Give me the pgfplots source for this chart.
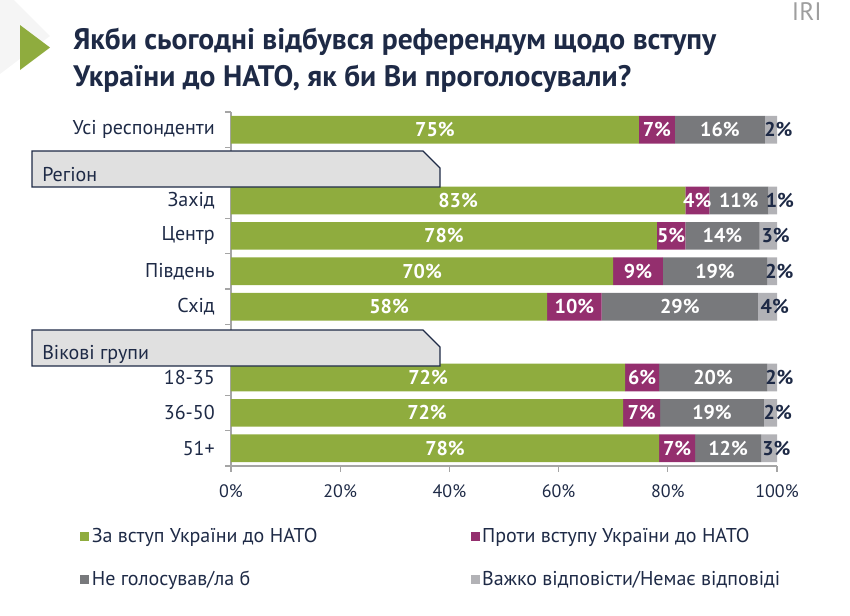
\documentclass[border=0pt]{standalone}
\usepackage{pgfplots}
\pgfplotsset{compat=1.18}
\usepackage{pgfplotstable}
\usepackage{fontspec}
\setmainfont{PT Sans}
\definecolor{cgreen}{RGB}{143,172,62}
\definecolor{cpurple}{RGB}{148,47,110}
\definecolor{cdgray}{RGB}{120,121,124}
\definecolor{clgray}{RGB}{178,178,182}
\definecolor{navy}{RGB}{30,42,70}
\definecolor{axgray}{RGB}{165,165,165}
\definecolor{hdrfill}{RGB}{224,224,224}
\newcommand\lblfont{\bfseries\fontsize{15pt}{17pt}\selectfont}
\newcommand\txtfont{\fontsize{15pt}{18pt}\selectfont}
\newcommand\tickfont{\fontsize{13.5pt}{16pt}\selectfont}

% y: 9 = top row (Усі респонденти) ... 0 = bottom row (51+)
\pgfplotstableread{
y a b c d la lb lc ld
9 74.7 6.6 16.5 2.2 75 7 16 2
7 83.2 4.4 10.8 1.6 83 4 11 1
6 78.0 5.2 13.6 3.2 78 5 14 3
5 70.0 9.1 19.1 1.8 70 9 19 2
4 57.9 10.0 28.6 3.5 58 10 29 4
2 72.2 6.2 19.8 1.8 72 6 20 2
1 71.8 6.8 19.0 2.4 72 7 19 2
0 78.4 6.6 12.1 2.9 78 7 12 3
}\datatable

\pgfplotsset{
  common/.style={
    at={(173.25pt,-349.5pt)}, anchor=south west,
    width=409.5pt, height=265.5pt, scale only axis,
    xmin=0, xmax=100, ymin=-0.5, ymax=9.5,
  },
}

\begin{document}
\begin{tikzpicture}
\begin{scope}[x=0.75pt, y=-0.75pt]
  \fill[black!4] (0,0) -- (14,0) -- (50,36) -- (0,74) -- cycle;
\end{scope}
\begin{axis}[common,
  xbar stacked, bar width=20.75pt,
  axis x line*=bottom, axis y line*=left,
  axis line style={draw=axgray, line width=0.9pt},
  tick align=outside, major tick length=4.3pt,
  tick style={draw=axgray, line width=0.9pt},
  xtick={0,20,...,100},
  /pgf/number format/assume math mode=true,
  xticklabel={\pgfmathprintnumber{\tick}\%},
  xticklabel style={font=\tickfont, text=navy, yshift=-6pt},
  ytick={-0.5,0.5,...,9.5},
  yticklabels={},
  extra y ticks={9,7,6,5,4,2,1,0},
  extra y tick labels={Усі респонденти,Захід,Центр,Південь,Схід,18-35,36-50,51+},
  extra y tick style={major tick length=0pt},
  yticklabel style={font=\txtfont, text=navy, inner sep=0pt, xshift=-12pt},
  legend columns=2,
  legend cell align=left,
  legend style={at={(-0.2766,-0.168)}, anchor=north west, draw=none, fill=none,
    inner sep=0pt, font=\txtfont, text=navy, row sep=16pt,
    nodes={inner sep=2pt}},
  legend image code/.code={\fill[#1] (0pt,-3.4pt) rectangle (6.75pt,3.4pt);},
]
\addplot[fill=cgreen, draw=none] table[x=a, y=y] {\datatable};
\addlegendentry{\makebox[282pt][l]{За вступ України до НАТО}}
\addplot[fill=cpurple, draw=none] table[x=b, y=y] {\datatable};
\addlegendentry{Проти вступу України до НАТО}
\addplot[fill=cdgray, draw=none] table[x=c, y=y] {\datatable};
\addlegendentry{\makebox[282pt][l]{Не голосував/ла б}}
\addplot[fill=clgray, draw=none] table[x=d, y=y] {\datatable};
\addlegendentry{Важко відповісти/Немає відповіді}
\end{axis}

\begin{axis}[common, hide axis, clip=false]
\addplot[only marks, mark size=0pt, point meta=explicit symbolic,
  nodes near coords={\pgfplotspointmeta\%},
  nodes near coords style={anchor=center, text=white, font=\lblfont}]
  table[x expr=\thisrow{a}/2, y=y, meta=la] {\datatable};
\addplot[only marks, mark size=0pt, point meta=explicit symbolic,
  nodes near coords={\pgfplotspointmeta\%},
  nodes near coords style={anchor=center, text=white, font=\lblfont}]
  table[x expr=\thisrow{a}+\thisrow{b}/2, y=y, meta=lb] {\datatable};
\addplot[only marks, mark size=0pt, point meta=explicit symbolic,
  nodes near coords={\pgfplotspointmeta\%},
  nodes near coords style={anchor=center, text=white, font=\lblfont}]
  table[x expr=\thisrow{a}+\thisrow{b}+\thisrow{c}/2, y=y, meta=lc] {\datatable};
\addplot[only marks, mark size=0pt, point meta=explicit symbolic,
  nodes near coords={\pgfplotspointmeta\%},
  nodes near coords style={anchor=center, text=navy, font=\lblfont, xshift=5.5pt}]
  table[x expr=\thisrow{a}+\thisrow{b}+\thisrow{c}+\thisrow{d}/2, y=y, meta=ld] {\datatable};
\end{axis}

\begin{scope}[x=0.75pt, y=-0.75pt]
  % section headers
  \draw[navy, fill=hdrfill, line width=0.8pt] (32,151) -- (423,151) -- (440,168) -- (440,187) -- (32,187) -- cycle;
  \node[anchor=base west, inner sep=0pt, text=navy, font=\txtfont] at (42,181) {Регіон};
  \draw[navy, fill=hdrfill, line width=0.8pt] (32,330) -- (423,330) -- (440,347) -- (440,366) -- (32,366) -- cycle;
  \node[anchor=base west, inner sep=0pt, text=navy, font=\txtfont] at (42,359) {Вікові групи};
  % title
  \fill[cgreen] (20,25) -- (50,47.5) -- (20,70) -- cycle;
  \node[anchor=base west, inner sep=0pt, text=navy, font=\bfseries\fontsize{22.2pt}{26pt}\selectfont] at (73,49) {Якби сьогодні відбувся референдум щодо вступу};
  \node[anchor=base west, inner sep=0pt, text=navy, font=\bfseries\fontsize{22.2pt}{26pt}\selectfont] at (73,86) {України до НАТО, як би Ви проголосували?};
  \node[anchor=base east, inner sep=0pt, text=black!38, font=\fontsize{19pt}{22pt}\selectfont] at (822,20) {IRI};
\end{scope}
\pgfresetboundingbox
\path[use as bounding box] (0pt,0pt) rectangle (637.5pt,-461.25pt);
\end{tikzpicture}
\end{document}
